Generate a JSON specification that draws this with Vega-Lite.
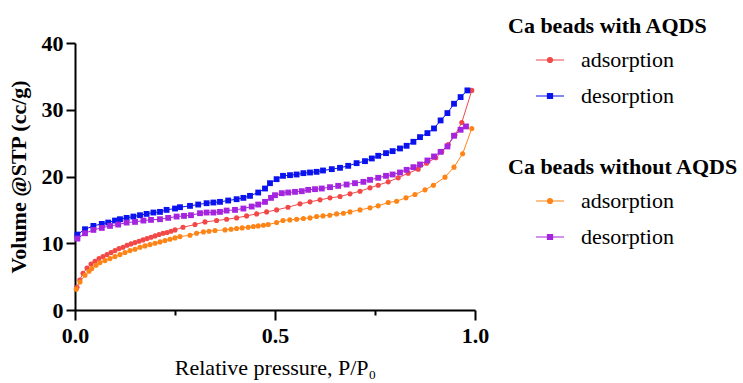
{
  "$schema": "https://vega.github.io/schema/vega-lite/v6.json",
  "width": 400,
  "height": 267,
  "autosize": {"type": "none"},
  "padding": {"left": 75, "top": 43, "right": 268, "bottom": 73},
  "background": "white",
  "config": {"view": {"stroke": null}, "font": "Liberation Serif"},
  "datasets": {
    "with_ads": [
      {"p":0.005,"v":3.4},{"p":0.012,"v":4.5},{"p":0.02,"v":5.5},{"p":0.03,"v":6.3},{"p":0.04,"v":6.9},{"p":0.05,"v":7.3},{"p":0.06,"v":7.7},{"p":0.07,"v":8.0},{"p":0.08,"v":8.3},{"p":0.09,"v":8.6},{"p":0.10,"v":8.9},{"p":0.11,"v":9.2},{"p":0.12,"v":9.4},{"p":0.13,"v":9.7},{"p":0.14,"v":9.9},{"p":0.15,"v":10.1},{"p":0.16,"v":10.3},{"p":0.17,"v":10.5},{"p":0.18,"v":10.7},{"p":0.19,"v":10.9},{"p":0.20,"v":11.1},{"p":0.21,"v":11.3},{"p":0.22,"v":11.5},{"p":0.23,"v":11.6},{"p":0.24,"v":11.8},{"p":0.25,"v":12.0},{"p":0.27,"v":12.4},{"p":0.30,"v":12.8},{"p":0.325,"v":13.2},{"p":0.354,"v":13.4},{"p":0.379,"v":13.6},{"p":0.404,"v":13.8},{"p":0.429,"v":14.1},{"p":0.454,"v":14.4},{"p":0.479,"v":14.7},{"p":0.504,"v":15.0},{"p":0.5325,"v":15.4},{"p":0.5625,"v":15.9},{"p":0.5875,"v":16.2},{"p":0.6125,"v":16.5},{"p":0.6375,"v":16.8},{"p":0.6625,"v":17.0},{"p":0.6875,"v":17.4},{"p":0.7125,"v":17.8},{"p":0.7375,"v":18.3},{"p":0.758,"v":18.7},{"p":0.783,"v":19.2},{"p":0.808,"v":19.8},{"p":0.833,"v":20.5},{"p":0.858,"v":21.1},{"p":0.879,"v":22.0},{"p":0.902,"v":22.8},{"p":0.917,"v":23.7},{"p":0.933,"v":24.8},{"p":0.95,"v":26.2},{"p":0.967,"v":28.1},{"p":0.992,"v":32.9}
    ],
    "with_des": [
      {"p":0.006,"v":11.3},{"p":0.025,"v":12.1},{"p":0.046,"v":12.6},{"p":0.067,"v":12.9},{"p":0.083,"v":13.1},{"p":0.1,"v":13.4},{"p":0.1125,"v":13.6},{"p":0.129,"v":13.8},{"p":0.146,"v":14.0},{"p":0.1625,"v":14.2},{"p":0.179,"v":14.4},{"p":0.196,"v":14.6},{"p":0.2125,"v":14.7},{"p":0.229,"v":15.0},{"p":0.25,"v":15.2},{"p":0.2625,"v":15.4},{"p":0.2875,"v":15.6},{"p":0.308,"v":15.8},{"p":0.329,"v":16.0},{"p":0.346,"v":16.1},{"p":0.3625,"v":16.2},{"p":0.383,"v":16.4},{"p":0.404,"v":16.6},{"p":0.421,"v":16.8},{"p":0.4375,"v":17.1},{"p":0.458,"v":17.6},{"p":0.475,"v":18.2},{"p":0.4875,"v":19.0},{"p":0.504,"v":19.6},{"p":0.52,"v":20.1},{"p":0.5375,"v":20.2},{"p":0.554,"v":20.3},{"p":0.571,"v":20.5},{"p":0.5875,"v":20.6},{"p":0.604,"v":20.7},{"p":0.62,"v":20.9},{"p":0.642,"v":21.1},{"p":0.6625,"v":21.3},{"p":0.683,"v":21.6},{"p":0.704,"v":22.0},{"p":0.725,"v":22.3},{"p":0.742,"v":22.7},{"p":0.758,"v":23.1},{"p":0.7775,"v":23.5},{"p":0.794,"v":23.8},{"p":0.8125,"v":24.2},{"p":0.829,"v":24.6},{"p":0.846,"v":25.2},{"p":0.8625,"v":25.9},{"p":0.881,"v":26.5},{"p":0.8975,"v":27.2},{"p":0.914,"v":28.4},{"p":0.931,"v":29.5},{"p":0.9475,"v":30.9},{"p":0.964,"v":31.9},{"p":0.981,"v":32.9}
    ],
    "without_ads": [
      {"p":0.003,"v":3.1},{"p":0.0125,"v":4.2},{"p":0.025,"v":5.2},{"p":0.035,"v":5.8},{"p":0.042,"v":6.2},{"p":0.0525,"v":6.7},{"p":0.0625,"v":7.1},{"p":0.075,"v":7.4},{"p":0.0875,"v":7.7},{"p":0.1,"v":8.0},{"p":0.1125,"v":8.3},{"p":0.125,"v":8.6},{"p":0.1375,"v":8.9},{"p":0.15,"v":9.1},{"p":0.1625,"v":9.4},{"p":0.175,"v":9.6},{"p":0.1875,"v":9.8},{"p":0.2,"v":10.0},{"p":0.2125,"v":10.2},{"p":0.225,"v":10.4},{"p":0.2375,"v":10.6},{"p":0.25,"v":10.8},{"p":0.2625,"v":11.0},{"p":0.2875,"v":11.2},{"p":0.304,"v":11.5},{"p":0.321,"v":11.7},{"p":0.335,"v":11.8},{"p":0.35,"v":11.9},{"p":0.375,"v":12.0},{"p":0.39,"v":12.1},{"p":0.404,"v":12.2},{"p":0.418,"v":12.3},{"p":0.433,"v":12.4},{"p":0.446,"v":12.5},{"p":0.458,"v":12.6},{"p":0.471,"v":12.7},{"p":0.483,"v":12.8},{"p":0.504,"v":13.1},{"p":0.52,"v":13.4},{"p":0.537,"v":13.5},{"p":0.554,"v":13.6},{"p":0.571,"v":13.7},{"p":0.5875,"v":13.8},{"p":0.604,"v":14.0},{"p":0.62,"v":14.1},{"p":0.637,"v":14.2},{"p":0.654,"v":14.4},{"p":0.671,"v":14.5},{"p":0.6875,"v":14.7},{"p":0.7125,"v":15.0},{"p":0.7375,"v":15.3},{"p":0.758,"v":15.6},{"p":0.783,"v":16.1},{"p":0.804,"v":16.3},{"p":0.8275,"v":16.8},{"p":0.85,"v":17.3},{"p":0.875,"v":18.0},{"p":0.896,"v":18.7},{"p":0.925,"v":19.9},{"p":0.9475,"v":21.4},{"p":0.969,"v":23.4},{"p":0.992,"v":27.2}
    ],
    "without_des": [
      {"p":0.006,"v":10.7},{"p":0.025,"v":11.5},{"p":0.046,"v":12.0},{"p":0.067,"v":12.3},{"p":0.0875,"v":12.6},{"p":0.108,"v":12.8},{"p":0.129,"v":13.1},{"p":0.15,"v":13.2},{"p":0.171,"v":13.4},{"p":0.19,"v":13.5},{"p":0.2125,"v":13.6},{"p":0.233,"v":13.8},{"p":0.254,"v":14.0},{"p":0.2725,"v":14.1},{"p":0.29,"v":14.2},{"p":0.3125,"v":14.5},{"p":0.329,"v":14.6},{"p":0.346,"v":14.6},{"p":0.3625,"v":14.7},{"p":0.379,"v":14.9},{"p":0.4,"v":15.0},{"p":0.421,"v":15.2},{"p":0.4417,"v":15.5},{"p":0.458,"v":15.8},{"p":0.475,"v":16.2},{"p":0.49,"v":16.8},{"p":0.5,"v":17.2},{"p":0.517,"v":17.5},{"p":0.533,"v":17.6},{"p":0.55,"v":17.7},{"p":0.567,"v":17.8},{"p":0.583,"v":18.0},{"p":0.6,"v":18.1},{"p":0.617,"v":18.2},{"p":0.6375,"v":18.4},{"p":0.658,"v":18.6},{"p":0.679,"v":18.8},{"p":0.7,"v":19.0},{"p":0.721,"v":19.2},{"p":0.7375,"v":19.5},{"p":0.758,"v":19.8},{"p":0.7775,"v":20.1},{"p":0.794,"v":20.3},{"p":0.8125,"v":20.6},{"p":0.829,"v":21.0},{"p":0.846,"v":21.4},{"p":0.8625,"v":21.8},{"p":0.881,"v":22.4},{"p":0.8975,"v":23.0},{"p":0.914,"v":23.7},{"p":0.931,"v":24.5},{"p":0.9475,"v":26.1},{"p":0.964,"v":27.0},{"p":0.9775,"v":27.5}
    ]
  },
  "encoding": {
    "x": {
      "field": "p", "type": "quantitative",
      "scale": {"domain": [0, 1], "nice": false, "zero": false},
      "axis": {
        "title": "Relative pressure, P/P₀",
        "values": [0, 0.25, 0.5, 0.75, 1],
        "labelExpr": "datum.value === 0.25 || datum.value === 0.75 ? '' : format(datum.value, '.1f')",
        "tickSize": {"condition": {"test": "datum.value === 0.25 || datum.value === 0.75", "value": 5}, "value": 10},
        "tickWidth": 2, "domainWidth": 2, "domainColor": "black", "tickColor": "black",
        "labelColor": "black", "titleColor": "black", "grid": false,
        "labelFlush": false, "labelOverlap": false,
        "labelFont": "Liberation Serif", "labelFontSize": 22, "labelFontWeight": "bold", "labelPadding": 5,
        "titleFont": "Liberation Serif", "titleFontSize": 22, "titleFontWeight": "normal", "titlePadding": 11
      }
    },
    "y": {
      "field": "v", "type": "quantitative",
      "scale": {"domain": [0, 40], "nice": false},
      "axis": {
        "title": "Volume @STP (cc/g)",
        "values": [0, 10, 20, 30, 40],
        "tickSize": 9, "tickWidth": 2, "domainWidth": 2, "domainColor": "black", "tickColor": "black",
        "labelColor": "black", "titleColor": "black", "grid": false,
        "labelFlush": false, "labelOverlap": false,
        "labelFont": "Liberation Serif", "labelFontSize": 22, "labelFontWeight": "bold", "labelPadding": 3,
        "titleFont": "Liberation Serif", "titleFontSize": 22, "titleFontWeight": "bold", "titlePadding": 11
      }
    }
  },
  "layer": [
    {
      "layer": [
        {"data": {"name": "with_ads"}, "transform": [{"calculate": "'adsorption'", "as": "s"}], "layer": [
          {"mark": {"type": "line", "strokeWidth": 1}, "encoding": {}},
          {"mark": {"type": "point", "filled": true, "shape": "circle", "size": 26, "opacity": 1}, "encoding": {}}
        ]},
        {"data": {"name": "with_des"}, "transform": [{"calculate": "'desorption'", "as": "s"}], "layer": [
          {"mark": {"type": "line", "strokeWidth": 1}, "encoding": {}},
          {"mark": {"type": "point", "filled": true, "shape": "square", "size": 34, "opacity": 1}, "encoding": {}}
        ]}
      ],
      "encoding": {
        "color": {
          "field": "s", "type": "nominal",
          "scale": {"domain": ["adsorption", "desorption"], "range": ["#F24848", "#0A12EE"]},
          "legend": {
            "title": "Ca beads with AQDS", "orient": "none", "legendX": 433, "legendY": -27,
            "symbolSize": 784, "symbolStrokeWidth": 1.2, "symbolOffset": 27, "labelOffset": 16,
            "rowPadding": 10, "titlePadding": 7, "titleLimit": 400, "labelLimit": 300,
            "titleFont": "Liberation Serif", "titleFontSize": 22, "titleFontWeight": "bold", "titleColor": "black",
            "labelFont": "Liberation Serif", "labelFontSize": 22, "labelColor": "black",
            "encode": {"symbols": {"update": {
              "shape": {"signal": "datum.value === 'adsorption' ? 'M-1,0H1M-0.18,0A0.18,0.18,0,1,0,0.18,0A0.18,0.18,0,1,0,-0.18,0Z' : 'M-1,0H1M-0.18,-0.18H0.18V0.18H-0.18Z'"},
              "fill": {"signal": "datum.value === 'adsorption' ? '#F24848' : '#0A12EE'"},
              "stroke": {"signal": "datum.value === 'adsorption' ? '#F24848' : '#0A12EE'"}
            }}}
          }
        }
      }
    },
    {
      "layer": [
        {"data": {"name": "without_ads"}, "transform": [{"calculate": "'adsorption'", "as": "s"}], "layer": [
          {"mark": {"type": "line", "strokeWidth": 1}, "encoding": {}},
          {"mark": {"type": "point", "filled": true, "shape": "circle", "size": 26, "opacity": 1}, "encoding": {}}
        ]},
        {"data": {"name": "without_des"}, "transform": [{"calculate": "'desorption'", "as": "s"}], "layer": [
          {"mark": {"type": "line", "strokeWidth": 1}, "encoding": {}},
          {"mark": {"type": "point", "filled": true, "shape": "square", "size": 34, "opacity": 1}, "encoding": {}}
        ]}
      ],
      "encoding": {
        "color": {
          "field": "s", "type": "nominal",
          "scale": {"domain": ["adsorption", "desorption"], "range": ["#FF8416", "#A524DE"]},
          "legend": {
            "title": "Ca beads without AQDS", "orient": "none", "legendX": 433, "legendY": 114,
            "symbolSize": 784, "symbolStrokeWidth": 1.2, "symbolOffset": 27, "labelOffset": 16,
            "rowPadding": 10, "titlePadding": 7, "titleLimit": 400, "labelLimit": 300,
            "titleFont": "Liberation Serif", "titleFontSize": 22, "titleFontWeight": "bold", "titleColor": "black",
            "labelFont": "Liberation Serif", "labelFontSize": 22, "labelColor": "black",
            "encode": {"symbols": {"update": {
              "shape": {"signal": "datum.value === 'adsorption' ? 'M-1,0H1M-0.18,0A0.18,0.18,0,1,0,0.18,0A0.18,0.18,0,1,0,-0.18,0Z' : 'M-1,0H1M-0.18,-0.18H0.18V0.18H-0.18Z'"},
              "fill": {"signal": "datum.value === 'adsorption' ? '#FF8416' : '#A524DE'"},
              "stroke": {"signal": "datum.value === 'adsorption' ? '#FF8416' : '#A524DE'"}
            }}}
          }
        }
      }
    }
  ],
  "resolve": {"scale": {"color": "independent"}}
}
